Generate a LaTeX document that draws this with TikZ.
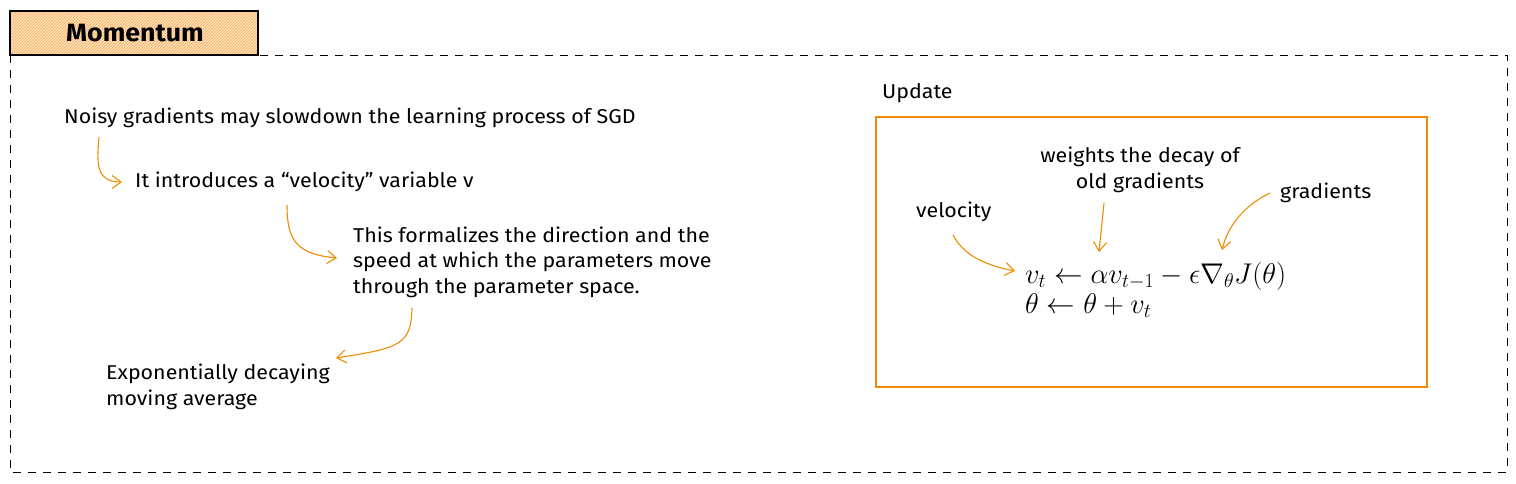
\RequirePackage{fix-cm}
\documentclass[tikz,border=0pt]{standalone}
\usepackage{fontspec}
\setmainfont{Fira Sans}[FakeStretch=1.07]
\usetikzlibrary{arrows.meta,patterns}
\definecolor{ex}{RGB}{240,140,0}
\definecolor{exlight}{RGB}{255,201,150}
\tikzset{
  txt/.style={anchor=west,inner sep=0pt,font=\fontsize{20}{25.5}\selectfont,align=left},
  arr/.style={draw=ex,line width=1.1pt,-{Straight Barb[length=9pt,width=13pt]}},
}
\begin{document}
\begin{tikzpicture}[x=1pt,y=-1pt]
\useasboundingbox (0,0) rectangle (1516,484);
% frame
\draw[dash pattern=on 8pt off 7pt,line width=0.9pt] (10,55) rectangle (1507,472);
% title
\draw[line width=1.1pt,pattern=north east lines,pattern color=ex!70,preaction={fill=exlight!60}] (10,11) rectangle (258,55);
\node[font=\fontsize{25}{28}\selectfont\bfseries] (title) at (135,33) {Momentum};
% left texts
\node[txt] (t1) at (64,118) {Noisy gradients may slowdown the learning process of SGD};
\node[txt] (t2) at (135,182) {It introduces a ``velocity'' variable v};
\node[txt] (t3) at (353,262) {This formalizes the direction and the\\speed at which the parameters move\\through the parameter space.};
\node[txt] (t4) at (106,387) {Exponentially decaying\\moving average};
\coordinate (a1s) at (99,137); \coordinate (a1e) at (122,182);
\draw[arr] (a1s) .. controls (97,162) and (95,182) .. (a1e);
\coordinate (a2s) at (287,205); \coordinate (a2e) at (337,258);
\draw[arr] (a2s) .. controls (287,240) and (296,254) .. (a2e);
\coordinate (a3s) at (412,308); \coordinate (a3e) at (336,358);
\draw[arr] (a3s) .. controls (411,345) and (400,348) .. (a3e);
% right
\node[txt] (upd) at (882,93) {Update};
\draw[draw=ex,line width=1.4pt] (876,117) rectangle (1427,387);
\node[txt,align=center,anchor=center] (w) at (1140,170) {weights the decay of\\old gradients};
\node[txt] (vel) at (916,212) {velocity};
\node[txt] (grad) at (1280,193) {gradients};
\node[anchor=west,inner sep=0pt,font=\fontsize{28.5}{30}\selectfont,align=left] (eq) at (1025,290)
  {$v_t \leftarrow \alpha v_{t-1} - \epsilon \nabla_\theta J(\theta)$\\$\theta \leftarrow \theta + v_t$};
\coordinate (b1s) at (953,235); \coordinate (b1e) at (1015,271);
\draw[arr] (b1s) .. controls (965,258) and (990,266) .. (b1e);
\coordinate (b2s) at (1104,203); \coordinate (b2e) at (1099,252);
\draw[arr] (b2s) -- (b2e);
\coordinate (b3s) at (1270,193); \coordinate (b3e) at (1222,250);
\draw[arr] (b3s) .. controls (1245,205) and (1228,225) .. (b3e);
\end{tikzpicture}
\end{document}
